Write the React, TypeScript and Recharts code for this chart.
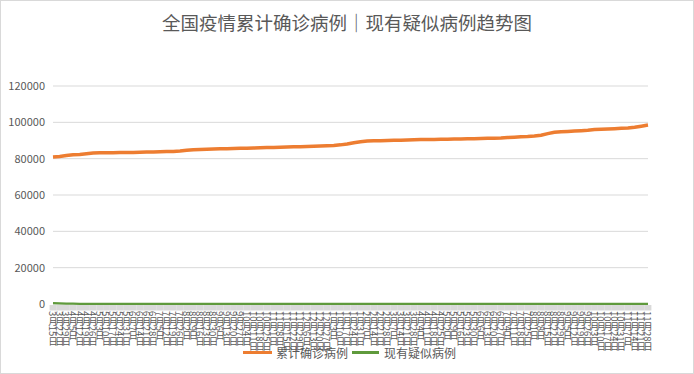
import React from "react";
import { CartesianGrid, Legend, Line, LineChart, XAxis, YAxis } from "recharts";

const dates = [
  "3月15日", "3月22日", "3月29日", "4月5日", "4月12日", "4月19日", "4月26日", "5月3日", "5月10日", "5月17日",
  "5月24日", "5月31日", "6月7日", "6月14日", "6月21日", "6月28日", "7月5日", "7月12日", "7月19日", "7月26日",
  "8月2日", "8月9日", "8月16日", "8月23日", "8月30日", "9月6日", "9月13日", "9月20日", "9月27日", "10月4日",
  "10月11日", "10月18日", "10月25日", "11月1日", "11月8日", "11月15日", "11月22日", "11月29日", "12月6日", "12月13日",
  "12月20日", "12月27日", "1月3日", "1月10日", "1月17日", "1月24日", "1月31日", "2月7日", "2月14日", "2月21日",
  "2月28日", "3月7日", "3月14日", "3月21日", "3月28日", "4月4日", "4月11日", "4月18日", "4月25日", "5月2日",
  "5月9日", "5月16日", "5月23日", "5月30日", "6月6日", "6月13日", "6月20日", "6月27日", "7月4日", "7月11日",
  "7月18日", "7月25日", "8月1日", "8月8日", "8月15日", "8月22日", "8月29日", "9月5日", "9月12日", "9月19日",
  "9月26日", "10月3日", "10月10日", "10月17日", "10月24日", "10月31日", "11月7日", "11月14日", "11月21日", "11月28日",
];

// 累计确诊病例
const confirmed = [
  80900, 81200, 81700, 82100, 82300, 82700, 83100, 83200, 83250, 83300,
  83350, 83400, 83450, 83550, 83650, 83700, 83800, 83900, 84000, 84200,
  84600, 84900, 85100, 85200, 85300, 85400, 85500, 85600, 85700, 85800,
  85900, 86000, 86100, 86200, 86300, 86400, 86500, 86600, 86700, 86800,
  86950, 87100, 87300, 87600, 88100, 88800, 89300, 89700, 89800, 89900,
  90000, 90100, 90200, 90300, 90400, 90500, 90550, 90600, 90650, 90700,
  90800, 90850, 90900, 91000, 91100, 91200, 91300, 91400, 91600, 91800,
  92000, 92200, 92500, 92900, 93800, 94500, 94800, 95000, 95200, 95400,
  95600, 96000, 96200, 96350, 96500, 96700, 96900, 97300, 97900, 98500,
];

// 现有疑似病例
const suspected = [
  420, 300, 210, 160, 120, 80, 60, 40, 25, 15,
  10, 8, 6, 5, 7, 9, 12, 10, 8, 6,
  9, 11, 8, 6, 5, 4, 3, 4, 3, 2,
  3, 4, 2, 3, 2, 3, 4, 3, 2, 3,
  5, 4, 6, 8, 12, 9, 6, 4, 3, 2,
  2, 1, 2, 1, 2, 3, 2, 1, 2, 1,
  2, 1, 2, 3, 2, 2, 1, 2, 3, 2,
  3, 4, 5, 6, 8, 10, 7, 5, 4, 3,
  3, 4, 3, 2, 3, 4, 5, 4, 3, 2,
];

const yTicks = [0, 20000, 40000, 60000, 80000, 100000, 120000];

const data = dates.map((date, i) => ({
  date,
  confirmed: confirmed[i],
  suspected: suspected[i],
}));

const textGray = "#595959";
const gridGray = "#d9d9d9";
const orange = "#ED7D31";
const green = "#5f9a3c";
const cjk = '"Noto Sans CJK SC", "Microsoft YaHei", sans-serif';

function DateTick({ x, y, payload }: any) {
  return (
    <g>
      <rect x={x - 3.4} y={y + 1} width={6.8} height={5.5} fill={gridGray} />
      <text
        x={x}
        y={y + 7}
        fill={textGray}
        fontSize={9.5}
        fontFamily={cjk}
        style={{ writingMode: "vertical-rl" }}
      >
        {payload.value}
      </text>
    </g>
  );
}

function LegendContent() {
  return (
    <div
      style={{
        display: "flex",
        alignItems: "center",
        fontSize: 12,
        color: textGray,
        fontFamily: cjk,
        whiteSpace: "nowrap",
      }}
    >
      <span style={{ width: 29, height: 3.5, background: orange, marginRight: 4 }} />
      <span style={{ marginRight: 4 }}>累计确诊病例</span>
      <span style={{ width: 27, height: 2.5, background: green, marginRight: 5 }} />
      <span>现有疑似病例</span>
    </div>
  );
}

export default function App() {
  return (
    <div
      style={{
        position: "absolute",
        left: 0,
        top: 0,
        width: 694,
        height: 374,
        boxSizing: "border-box",
        border: `1px solid ${gridGray}`,
        background: "#fff",
      }}
    >
      <div
        style={{
          position: "absolute",
          left: -1,
          top: 9,
          width: 694,
          textAlign: "center",
          fontSize: 18.5,
          color: textGray,
          fontFamily: cjk,
          lineHeight: "24px",
        }}
      >
        全国疫情累计确诊病例｜现有疑似病例趋势图
      </div>
      <div style={{ position: "absolute", left: -1, top: -1 }}>
        <LineChart
          width={694}
          height={374}
          data={data}
          margin={{ top: 86, right: 46, bottom: 0, left: 0 }}
        >
          <CartesianGrid vertical={false} stroke={gridGray} />
          <XAxis
            dataKey="date"
            interval={0}
            axisLine={false}
            tickLine={false}
            tickSize={0}
            tickMargin={0}
            height={70}
            tick={<DateTick />}
          />
          <YAxis
            domain={[0, 120000]}
            ticks={yTicks}
            axisLine={false}
            tickLine={false}
            width={53}
            tick={{ fill: textGray, fontSize: 11, fontFamily: cjk }}
          />
          <Legend
            layout="horizontal"
            verticalAlign="middle"
            align="center"
            wrapperStyle={{ top: 344, left: 243, width: 240 }}
            content={<LegendContent />}
          />
          <Line
            type="linear"
            dataKey="confirmed"
            name="累计确诊病例"
            stroke={orange}
            strokeWidth={3.5}
            dot={false}
            isAnimationActive={false}
          />
          <Line
            type="linear"
            dataKey="suspected"
            name="现有疑似病例"
            stroke={green}
            strokeWidth={2.25}
            dot={false}
            isAnimationActive={false}
          />
        </LineChart>
      </div>
    </div>
  );
}
